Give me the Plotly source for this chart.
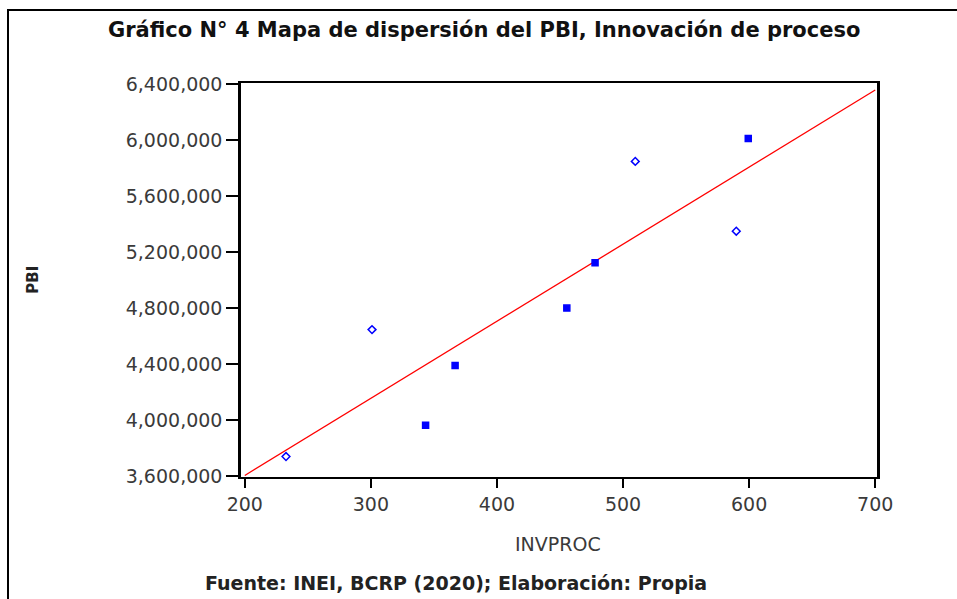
import numpy as np
import plotly.graph_objects as go

# Data
invproc = [232.7, 300.9, 343.4, 366.8, 455.4, 477.8, 509.7, 589.8, 599.3]
pbi = [3741000, 4648000, 3964000, 4392000, 4802000, 5126000, 5850000, 5351000, 6014000]
y_ticks = [3600000, 4000000, 4400000, 4800000, 5200000, 5600000, 6000000, 6400000]
x_ticks = [200, 300, 400, 500, 600, 700]

marker_symbols = ["diamond-open", "diamond-open", "square", "square", "square",
                  "square", "diamond-open", "diamond-open", "square"]

# OLS fit line
b, a = np.polyfit(invproc, pbi, 1)
fit_x = [200, 700]
fit_y = [a + b * v for v in fit_x]

fig = go.Figure()
fig.add_trace(go.Scatter(x=fit_x, y=fit_y, mode="lines",
                         line=dict(color="#ff0000", width=1.3), showlegend=False,
                         hoverinfo="skip"))
fig.add_trace(go.Scatter(x=invproc, y=pbi, mode="markers",
                         marker=dict(color="#0000ff", size=6, symbol=marker_symbols,
                                     line=dict(color="#0000ff", width=1.5)),
                         showlegend=False))

L, R, T, B = 241, 80, 83, 121.5
W, H = 957, 599
pw, ph = W - L - R, H - T - B

def px(x):
    return (x - L) / pw

def py(y):
    return (H - B - y) / ph

tickfont = dict(family="DejaVu Sans", size=19, color="#3a3a3a")

fig.update_layout(
    width=W, height=H,
    margin=dict(l=L, r=R, t=T, b=B, pad=0),
    paper_bgcolor="white", plot_bgcolor="white",
    xaxis=dict(range=[197, 701.4], tickvals=x_ticks, ticktext=[str(v) for v in x_ticks],
               showgrid=False, zeroline=False, showline=True, mirror=True,
               linecolor="black", linewidth=2, ticks="outside", ticklen=9,
               tickwidth=2, tickcolor="black", tickfont=tickfont),
    yaxis=dict(range=[3595000, 6410000], tickvals=y_ticks,
               ticktext=[f"{v:,}" for v in y_ticks],
               showgrid=False, zeroline=False, showline=True, mirror=True,
               linecolor="black", linewidth=2.5, ticks="outside", ticklen=12,
               tickwidth=2, tickcolor="black", tickfont=tickfont),
    shapes=[dict(type="rect", xref="paper", yref="paper",
                 x0=px(8), x1=px(965), y0=py(610), y1=py(10),
                 line=dict(color="black", width=2), fillcolor="rgba(0,0,0,0)")],
    annotations=[
        dict(text="Gráfico N° 4 Mapa de dispersión del PBI, Innovación de proceso",
             x=px(484), y=py(30), xref="paper", yref="paper", showarrow=False,
             font=dict(family="DejaVu Sans", size=21, color="#111111", weight="bold"),
             xanchor="center", yanchor="middle"),
        dict(text="INVPROC", x=px(558), y=py(545), xref="paper", yref="paper",
             showarrow=False, font=dict(family="DejaVu Sans", size=19, color="#3a3a3a"),
             xanchor="center", yanchor="middle"),
        dict(text="PBI", x=px(33), y=py(280), xref="paper", yref="paper",
             showarrow=False, textangle=-90,
             font=dict(family="DejaVu Sans", size=15, color="#222222", weight="bold"),
             xanchor="center", yanchor="middle"),
        dict(text="Fuente: INEI, BCRP (2020); Elaboración: Propia",
             x=px(456), y=py(584), xref="paper", yref="paper", showarrow=False,
             font=dict(family="DejaVu Sans", size=19, color="#222222", weight="bold"),
             xanchor="center", yanchor="middle"),
    ],
)

fig.write_html("out.html", config={"displayModeBar": False},
               post_script="document.body.style.margin='0';document.body.style.overflow='hidden';")
